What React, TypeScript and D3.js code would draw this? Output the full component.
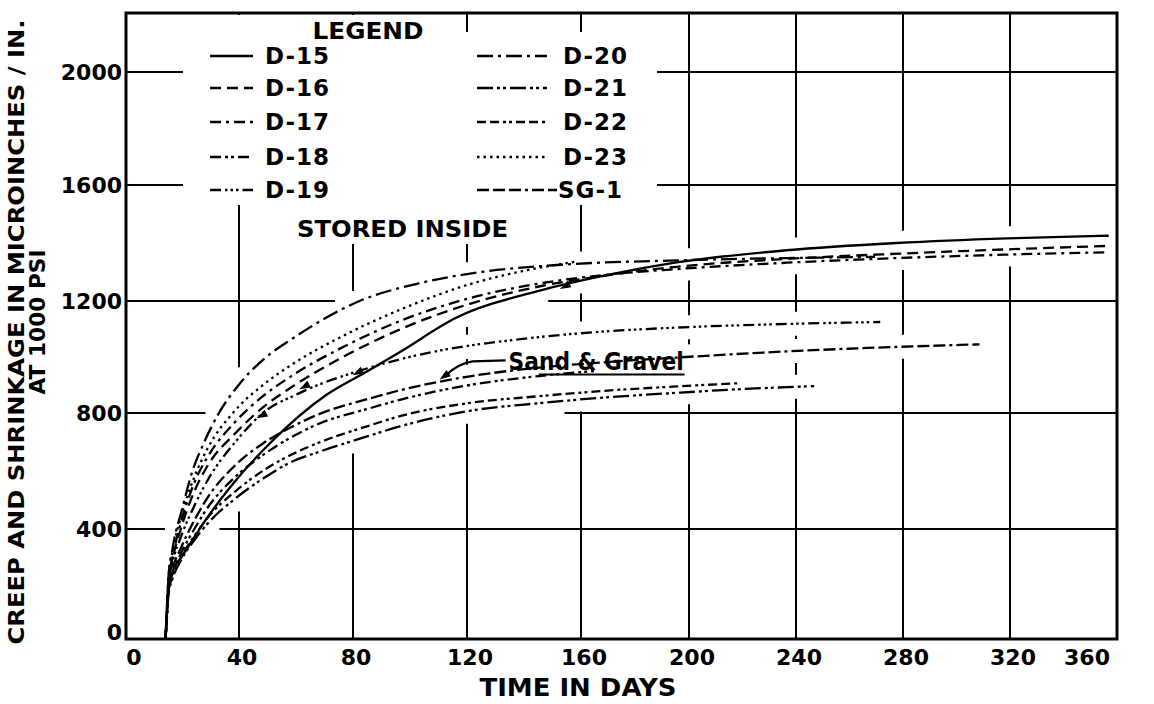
import React from "react";
import * as d3 from "d3";

const W = 1154;
const H = 704;

const xTicks = [0, 40, 80, 120, 160, 200, 240, 280, 320, 360];
const yTicks = [0, 400, 800, 1200, 1600, 2000];
// the printed grid is slightly uneven (scan); pixel positions of the printed grid lines
const xGridPx = [126, 239, 353, 467, 581, 689, 796, 903, 1010, 1117];
const yDomain = [0, 400, 800, 1200, 1600, 2000, 2200];
const yGridPx = [639, 529, 413, 301, 185, 72, 13];

// [day, microinches/in]
const d15 = [[14.0,0],[14.5,100],[15.0,185],[16.5,245],[19.4,295],[22.3,340],[28.1,430],[37.8,555],[51.3,700],[70.7,865],[85.2,950],[96.8,1020],[116.2,1140],[145.2,1235],[169.9,1290],[195.4,1333],[236.5,1375],[277.7,1400],[318.8,1416],[356.9,1425]];
const d16 = [[14.0,0],[14.5,100],[15.0,200],[16.5,290],[19.4,400],[24.2,530],[29.0,620],[38.7,730],[48.4,820],[58.1,890],[77.4,1005],[96.8,1100],[121.0,1190],[145.2,1250],[170.9,1290],[195.4,1318],[236.5,1345],[277.7,1363],[318.8,1378],[356.9,1390]];
const d17 = [[14.0,0],[14.5,100],[15.0,210],[16.5,300],[19.4,420],[24.2,560],[29.0,650],[38.7,770],[48.4,860],[58.1,930],[77.4,1040],[96.8,1130],[121.0,1210],[145.2,1260],[170.9,1292],[195.4,1310],[236.5,1332],[277.7,1348],[318.8,1360],[356.9,1368]];
const d18 = [[14.0,0],[14.5,90],[15.0,170],[16.5,240],[19.4,310],[24.2,400],[29.0,475],[38.7,580],[48.4,655],[58.1,715],[67.8,762],[85.2,815],[96.8,848],[121.0,900],[145.2,932],[164.8,950]];
const d19 = [[14.0,0],[14.5,100],[15.0,200],[16.5,280],[19.4,370],[24.2,480],[29.0,570],[38.7,700],[48.4,800],[61.0,870],[85.2,960],[108.4,1019],[135.5,1060],[166.9,1090],[195.4,1105],[236.5,1118],[271.5,1125]];
const d20 = [[14.0,0],[14.5,120],[15.0,220],[16.5,330],[20.0,473],[23.2,590],[27.8,702],[32.9,800],[40.1,903],[48.4,990],[58.8,1066],[82.3,1200],[103.6,1262],[124.9,1300],[152.9,1325],[195.4,1340],[236.5,1348],[269.5,1352]];
const d21 = [[14.0,0],[14.5,80],[15.0,160],[16.5,220],[19.4,285],[24.2,360],[29.0,420],[38.7,505],[49.4,580],[58.1,630],[67.8,665],[85.2,720],[96.8,755],[121.0,808],[145.2,835],[166.9,854],[195.4,872],[221.1,886],[246.8,896]];
const d22 = [[14.0,0],[14.5,85],[15.0,165],[16.5,230],[19.4,295],[24.2,375],[29.0,440],[38.7,530],[49.4,607],[58.1,655],[67.8,697],[85.2,755],[96.8,790],[121.0,836],[145.2,860],[166.9,878],[195.4,895],[218.0,906]];
const d23 = [[14.0,0],[14.5,110],[15.0,220],[16.5,320],[19.4,440],[24.2,580],[29.0,680],[38.7,810],[48.4,900],[58.1,970],[77.4,1080],[96.8,1170],[121.0,1258],[140.4,1305],[157.8,1335]];
const sg1 = [[14.0,0],[14.5,90],[15.0,180],[16.5,255],[19.4,330],[24.2,430],[29.0,510],[38.7,620],[48.4,695],[58.1,750],[67.8,795],[85.2,850],[96.8,882],[121.0,931],[145.2,962],[166.9,980],[195.4,998],[236.5,1020],[277.7,1036],[308.6,1045]];

const seriesNames = ["D-15", "D-16", "D-17", "D-18", "D-19", "D-20", "D-21", "D-22", "D-23", "SG-1"];
const seriesData = [d15, d16, d17, d18, d19, d20, d21, d22, d23, sg1];
const seriesDash = [
  "none",
  "11,6",
  "11,5,3,5",
  "11,4,3,3,3,4",
  "11,4,2.5,3,2.5,3,2.5,4",
  "16,5,3,5",
  "16,4,3,3,3,4",
  "9,4,9,4,3,3,3,4",
  "2.5,4",
  "12,4,12,4,12,4,3,4",
];

// small arrowheads on curves (day, value)
const arrowMarks = [[61.2, 885], [46.2, 782], [79.9, 935], [152.6, 1241]];
// "Sand & Gravel" label position and arrow tip (day, value)
const sandLabel = [134.6, 952];
const sandTip = [110.4, 920];

const FONT = "DejaVu Sans, sans-serif";
const HALO = 12;

type Seg = [number, number];

function subtract(start: number, end: number, gaps: Seg[]): Seg[] {
  const g = gaps.slice().sort((a, b) => a[0] - b[0]);
  const merged: Seg[] = [];
  for (const iv of g) {
    if (merged.length && iv[0] <= merged[merged.length - 1][1]) {
      merged[merged.length - 1][1] = Math.max(merged[merged.length - 1][1], iv[1]);
    } else merged.push([iv[0], iv[1]]);
  }
  const out: Seg[] = [];
  let cur = start;
  for (const [a, b] of merged) {
    if (b <= cur) continue;
    if (a >= end) break;
    if (a > cur) out.push([cur, Math.min(a, end)]);
    cur = Math.max(cur, b);
  }
  if (cur < end) out.push([cur, end]);
  return out.filter((s) => s[1] - s[0] > 1.5);
}

export default function App() {
  const x = d3.scaleLinear().domain(xTicks).range(xGridPx);
  const y = d3.scaleLinear().domain(yDomain).range(yGridPx);
  const line = d3
    .line<number[]>()
    .x((d) => x(d[0]))
    .y((d) => y(d[1]))
    .curve(d3.curveMonotoneX);

  const x0 = x(0);
  const x1 = x(360);
  const yb = y(0);
  const yt = y(2200);

  const legRows = [56, 88, 122, 157, 190];
  const leftSym = [210, 253];
  const rightSym = [477, 547];

  const sgTextX = x(sandLabel[0]);
  const sgTextY = y(sandLabel[1]);
  const sgTip = [x(sandTip[0]), y(sandTip[1])];

  const paths = seriesData.map((s) => line(s as any) || "");

  // dense pixel samples of the curves: grid lines are broken where the curves pass
  const samples: number[][] = [];
  seriesData.forEach((s) => {
    const pts = s.map((d) => [x(d[0]), y(d[1])]);
    for (let i = 0; i < pts.length - 1; i++) {
      const [ax, ay] = pts[i];
      const [bx, by] = pts[i + 1];
      const n = Math.max(1, Math.ceil(Math.hypot(bx - ax, by - ay)));
      for (let k = 0; k < n; k++) samples.push([ax + ((bx - ax) * k) / n, ay + ((by - ay) * k) / n]);
    }
    samples.push(pts[pts.length - 1]);
  });

  const gapsFor = (fixed: number, vertical: boolean): Seg[] => {
    const iv: Seg[] = [];
    for (const [px, py] of samples) {
      const d = vertical ? px - fixed : py - fixed;
      if (Math.abs(d) < HALO) {
        const r = Math.sqrt(HALO * HALO - d * d);
        const c = vertical ? py : px;
        iv.push([c - r, c + r]);
      }
    }
    return iv;
  };

  const hLines = yTicks
    .filter((t) => t > 0)
    .map((t) => ({ y: y(t), segs: subtract(x0, x1, gapsFor(y(t), false)) }));
  const vLines = xTicks
    .filter((t) => t > 0 && t < 360)
    .map((t) => ({ x: x(t), segs: subtract(yt, yb, gapsFor(x(t), true)) }));

  const arrowHead = (px: number, py: number, ang: number, key: string) => (
    <path key={key} d="M0,0 L11,-3.8 L11,3.8 Z" fill="#000" transform={`translate(${px},${py}) rotate(${ang})`} />
  );

  return (
    <svg width={W} height={H} style={{ display: "block", position: "absolute", left: 0, top: 0 }}>
      <defs>
        <mask id="gridMask" maskUnits="userSpaceOnUse" x={0} y={0} width={W} height={H}>
          <rect x={0} y={0} width={W} height={H} fill="white" />
          <rect x={183} y={32} width={474} height={173} fill="black" />
          <rect x={183} y={yt + 2} width={278} height={22} fill="black" />
          <rect x={288} y={200} width={228} height={44} fill="black" />
          <rect x={sgTextX - 40} y={sgTextY - 26} width={222} height={34} fill="black" />
        </mask>
      </defs>
      <rect x={0} y={0} width={W} height={H} fill="#fff" />
      <g mask="url(#gridMask)">
        {hLines.map((l, i) =>
          l.segs.map((s, j) => (
            <line key={`h${i}-${j}`} x1={s[0]} x2={s[1]} y1={l.y} y2={l.y} stroke="#000" strokeWidth={2} />
          ))
        )}
        {vLines.map((l, i) =>
          l.segs.map((s, j) => (
            <line key={`v${i}-${j}`} x1={l.x} x2={l.x} y1={s[0]} y2={s[1]} stroke="#000" strokeWidth={2} />
          ))
        )}
      </g>
      {paths.map((p, i) => (
        <path key={"c" + i} d={p} fill="none" stroke="#000" strokeWidth={2.3} strokeDasharray={seriesDash[i]} />
      ))}
      {arrowMarks.map((m, i) => arrowHead(x(m[0]), y(m[1]), -28, "am" + i))}
      <rect x={x0} y={yt} width={x1 - x0} height={yb - yt} fill="none" stroke="#000" strokeWidth={3} />

      <g fontFamily={FONT} fontWeight="bold" fontSize={22} fill="#000">
        {yTicks.map((t) => (
          <text key={"yl" + t} x={x0 - 4} y={t === 0 ? y(t) - 7 : y(t)} textAnchor="end" dominantBaseline="central">
            {t}
          </text>
        ))}
        {xTicks.map((t) => (
          <text key={"xl" + t} x={t === 0 ? x(t) + 8 : t === 360 ? x(t) - 30 : x(t) + 3} y={yb + 26} textAnchor="middle">
            {t}
          </text>
        ))}
      </g>

      <text x={578} y={696} textAnchor="middle" fontFamily={FONT} fontWeight="bold" fontSize={25} textLength={197} lengthAdjust="spacingAndGlyphs">
        TIME IN DAYS
      </text>
      <text transform="translate(16,332) rotate(-90)" textAnchor="middle" dominantBaseline="central" fontFamily={FONT} fontWeight="bold" fontSize={22} textLength={625} lengthAdjust="spacingAndGlyphs">
        CREEP AND SHRINKAGE IN MICROINCHES / IN.
      </text>
      <text transform="translate(37,322) rotate(-90)" textAnchor="middle" dominantBaseline="central" fontFamily={FONT} fontWeight="bold" fontSize={22} textLength={145} lengthAdjust="spacingAndGlyphs">
        AT 1000 PSI
      </text>

      <g fontFamily={FONT} fontWeight="bold" fontSize={23} fill="#000">
        <text x={368} y={31} textAnchor="middle" dominantBaseline="central" textLength={111} lengthAdjust="spacingAndGlyphs">
          LEGEND
        </text>
        {seriesNames.map((n, i) => {
          const col = i < 5 ? 0 : 1;
          const row = i % 5;
          const sx = col === 0 ? leftSym : rightSym;
          const end = n === "SG-1" ? 557 : sx[1];
          const tx = col === 0 ? 265 : n === "SG-1" ? 558 : 563;
          return (
            <g key={"lg" + n}>
              <line x1={sx[0]} x2={end} y1={legRows[row]} y2={legRows[row]} stroke="#000" strokeWidth={2.3} strokeDasharray={seriesDash[i]} />
              <text x={tx} y={legRows[row]} dominantBaseline="central" letterSpacing={1}>
                {n}
              </text>
            </g>
          );
        })}
      </g>

      <text x={297} y={229} dominantBaseline="central" fontFamily={FONT} fontWeight="bold" fontSize={23} textLength={211} lengthAdjust="spacingAndGlyphs">
        STORED INSIDE
      </text>

      <text x={sgTextX} y={sgTextY} fontFamily={FONT} fontWeight="bold" fontSize={25} textLength={175} lengthAdjust="spacingAndGlyphs">
        Sand &amp; Gravel
      </text>
      <line x1={sgTextX + 30} x2={sgTextX + 176} y1={sgTextY + 4} y2={sgTextY + 4} stroke="#000" strokeWidth={2} />
      <path
        d={`M${sgTextX - 3},${sgTextY - 10} L${sgTextX - 36},${sgTextY - 9} Q${sgTextX - 50},${sgTextY - 7} ${sgTip[0] + 6},${sgTip[1] - 4}`}
        fill="none"
        stroke="#000"
        strokeWidth={2.2}
      />
      {arrowHead(sgTip[0], sgTip[1], -35, "sgtip")}
    </svg>
  );
}
